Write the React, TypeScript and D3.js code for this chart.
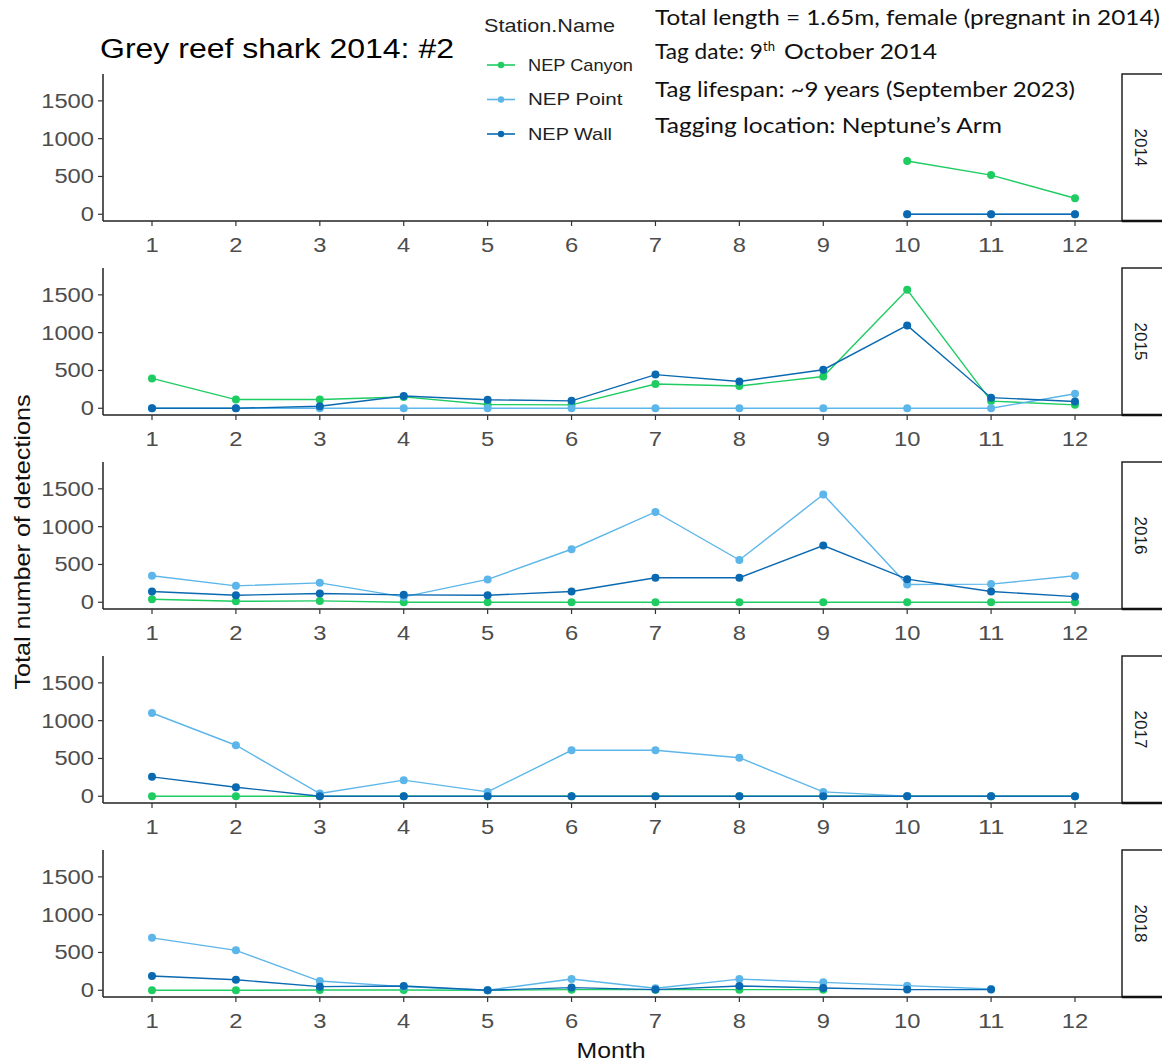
import React from "react";
import * as d3 from "d3";

const months = [1, 2, 3, 4, 5, 6, 7, 8, 9, 10, 11, 12];
const years = [2014, 2015, 2016, 2017, 2018];
const stations = ["NEP Canyon", "NEP Point", "NEP Wall"];
const stationColors = ["#1ECC62", "#5DB6EA", "#0A69B0"];
const yTicks = [0, 500, 1000, 1500];

type V = number | null;
const _ = null;

// 2014
const canyon2014: V[] = [_, _, _, _, _, _, _, _, _, 705, 518, 212];
const point2014: V[] = [_, _, _, _, _, _, _, _, _, 0, 0, 0];
const wall2014: V[] = [_, _, _, _, _, _, _, _, _, 0, 0, 0];
// 2015
const canyon2015: V[] = [395, 115, 115, 150, 50, 45, 320, 295, 420, 1567, 95, 45];
const point2015: V[] = [0, 0, 0, 0, 0, 0, 0, 0, 0, 0, 0, 192];
const wall2015: V[] = [0, 0, 27, 162, 112, 98, 445, 355, 510, 1096, 140, 90];
// 2016
const canyon2016: V[] = [40, 13, 18, 0, 0, 0, 0, 0, 0, 0, 0, 0];
const point2016: V[] = [350, 217, 257, 71, 302, 701, 1194, 559, 1425, 235, 240, 350];
const wall2016: V[] = [142, 93, 115, 98, 93, 142, 324, 324, 750, 306, 142, 75];
// 2017
const canyon2017: V[] = [0, 0, 0, 0, 0, 0, 0, 0, 0, 0, 0, 0];
const point2017: V[] = [1101, 675, 36, 213, 58, 608, 608, 510, 58, 2, 0, 0];
const wall2017: V[] = [257, 120, 0, 0, 0, 0, 0, 0, 0, 0, 0, 0];
// 2018
const canyon2018: V[] = [0, 0, 3, 3, 0, 8, 8, 8, 8, _, _, _];
const point2018: V[] = [693, 528, 122, 48, 0, 148, 26, 148, 105, 61, 17, _];
const wall2018: V[] = [188, 140, 48, 57, 0, 35, 9, 57, 31, 9, 9, _];

const seriesByYear: V[][][] = [
  [canyon2014, point2014, wall2014],
  [canyon2015, point2015, wall2015],
  [canyon2016, point2016, wall2016],
  [canyon2017, point2017, wall2017],
  [canyon2018, point2018, wall2018],
];

const titleText = "Grey reef shark 2014: #2";
const noteLines = [
  "Total length = 1.65m,  female (pregnant in 2014)",
  "Tag date: 9",
  "Tag lifespan: ~9 years (September 2023)",
  "Tagging location: Neptune\u2019s Arm",
];

const SANS = "'Liberation Sans', Arial, Helvetica, sans-serif";
const NOTE = "Lato, 'Open Sans', sans-serif";

export default function App() {
  const W = 1162;
  const H = 1061;
  const axisX = 103;
  const stripX = 1122;
  const panelH = 147;
  const firstTop = 74;
  const step = 194;
  const x = d3.scaleLinear().domain([1, 12]).range([152, 1075]);
  const digitW = 13.2;

  return (
    <svg
      width={W}
      height={H}
      style={{ position: "absolute", left: 0, top: 0, background: "#fff" }}
    >
      <rect x={0} y={0} width={W} height={H} fill="#fff" />
      {years.map((yr, i) => {
        const top = firstTop + step * i;
        const bottom = top + panelH;
        const y = d3.scaleLinear().domain([-89, 1855]).range([bottom, top]);
        const line = d3
          .line<[number, V]>()
          .defined((d) => d[1] !== null)
          .x((d) => x(d[0]))
          .y((d) => y(d[1] as number));
        return (
          <g key={yr}>
            {/* strip */}
            <rect
              x={stripX}
              y={top}
              width={80}
              height={panelH}
              fill="#fff"
              stroke="#222"
              strokeWidth={1.5}
            />
            <text
              transform={`translate(${1140},${(top + bottom) / 2}) rotate(90)`}
              textAnchor="middle"
              dominantBaseline="central"
              fontFamily={SANS}
              fontSize={17}
              fill="#1a1a1a"
            >
              {yr}
            </text>
            {/* series */}
            {seriesByYear[i].map((vals, s) => {
              const pts: [number, V][] = months.map((m, k) => [m, vals[k]]);
              return (
                <g key={s}>
                  <path
                    d={line(pts) || ""}
                    fill="none"
                    stroke={stationColors[s]}
                    strokeWidth={1.4}
                  />
                  {pts
                    .filter((p) => p[1] !== null)
                    .map((p) => (
                      <circle
                        key={p[0]}
                        cx={x(p[0])}
                        cy={y(p[1] as number)}
                        r={4}
                        fill={stationColors[s]}
                      />
                    ))}
                </g>
              );
            })}
            {/* axes */}
            <line x1={axisX} x2={axisX} y1={top} y2={bottom} stroke="#222" strokeWidth={1.5} />
            <line x1={axisX} x2={stripX} y1={bottom} y2={bottom} stroke="#222" strokeWidth={1.5} />
            <line x1={stripX} x2={W} y1={bottom} y2={bottom} stroke="#111" strokeWidth={2.5} />
            {yTicks.map((t) => (
              <g key={t}>
                <line x1={axisX - 5} x2={axisX} y1={y(t)} y2={y(t)} stroke="#333" strokeWidth={1.2} />
                <text
                  x={axisX - 9}
                  y={y(t)}
                  textAnchor="end"
                  dominantBaseline="central"
                  fontFamily={SANS}
                  fontSize={20}
                  fill="#4d4d4d"
                  textLength={String(t).length * digitW}
                  lengthAdjust="spacingAndGlyphs"
                >
                  {t}
                </text>
              </g>
            ))}
            {months.map((m) => (
              <g key={m}>
                <line x1={x(m)} x2={x(m)} y1={bottom} y2={bottom + 5} stroke="#333" strokeWidth={1.2} />
                <text
                  x={x(m)}
                  y={bottom + 24}
                  textAnchor="middle"
                  dominantBaseline="central"
                  fontFamily={SANS}
                  fontSize={20}
                  fill="#4d4d4d"
                  textLength={String(m).length * digitW}
                  lengthAdjust="spacingAndGlyphs"
                >
                  {m}
                </text>
              </g>
            ))}
          </g>
        );
      })}

      {/* axis titles */}
      <text
        transform={`translate(22,${542}) rotate(-90)`}
        textAnchor="middle"
        dominantBaseline="central"
        fontFamily={SANS}
        fontSize={22}
        fill="#111"
        textLength={295}
        lengthAdjust="spacingAndGlyphs"
      >
        Total number of detections
      </text>
      <text
        x={611}
        y={1050}
        textAnchor="middle"
        dominantBaseline="central"
        fontFamily={SANS}
        fontSize={22}
        fill="#111"
        textLength={69}
        lengthAdjust="spacingAndGlyphs"
      >
        Month
      </text>

      {/* title */}
      <text
        x={100}
        y={58}
        fontFamily={SANS}
        fontSize={27}
        fill="#000"
        textLength={354}
        lengthAdjust="spacingAndGlyphs"
      >
        {titleText}
      </text>

      {/* legend */}
      <text
        x={484}
        y={25}
        dominantBaseline="central"
        fontFamily={SANS}
        fontSize={19}
        fill="#222"
        textLength={131}
        lengthAdjust="spacingAndGlyphs"
      >
        Station.Name
      </text>
      {stations.map((st, k) => {
        const cy = 65 + k * 34.5;
        return (
          <g key={st}>
            <line x1={487} x2={515} y1={cy} y2={cy} stroke={stationColors[k]} strokeWidth={1.6} />
            <circle cx={501} cy={cy} r={3.2} fill={stationColors[k]} />
            <text
              x={528}
              y={cy}
              dominantBaseline="central"
              fontFamily={SANS}
              fontSize={17}
              fill="#222"
              textLength={st.length * 10.5}
              lengthAdjust="spacingAndGlyphs"
            >
              {st}
            </text>
          </g>
        );
      })}

      {/* notes */}
      <text x={655} y={25} fontFamily={NOTE} fontSize={21} fill="#111" textLength={505} lengthAdjust="spacingAndGlyphs">
        {noteLines[0]}
      </text>
      <text x={655} y={59} fontFamily={NOTE} fontSize={21} fill="#111">
        <tspan textLength={108} lengthAdjust="spacingAndGlyphs">{noteLines[1]}</tspan>
        <tspan fontSize={13} dy={-8}>th</tspan>
        <tspan dy={8} x={784} textLength={153} lengthAdjust="spacingAndGlyphs">{"October 2014"}</tspan>
      </text>
      <text x={655} y={97} fontFamily={NOTE} fontSize={21} fill="#111" textLength={420} lengthAdjust="spacingAndGlyphs">
        {noteLines[2]}
      </text>
      <text x={655} y={133} fontFamily={NOTE} fontSize={21} fill="#111" textLength={347} lengthAdjust="spacingAndGlyphs">
        {noteLines[3]}
      </text>
    </svg>
  );
}
